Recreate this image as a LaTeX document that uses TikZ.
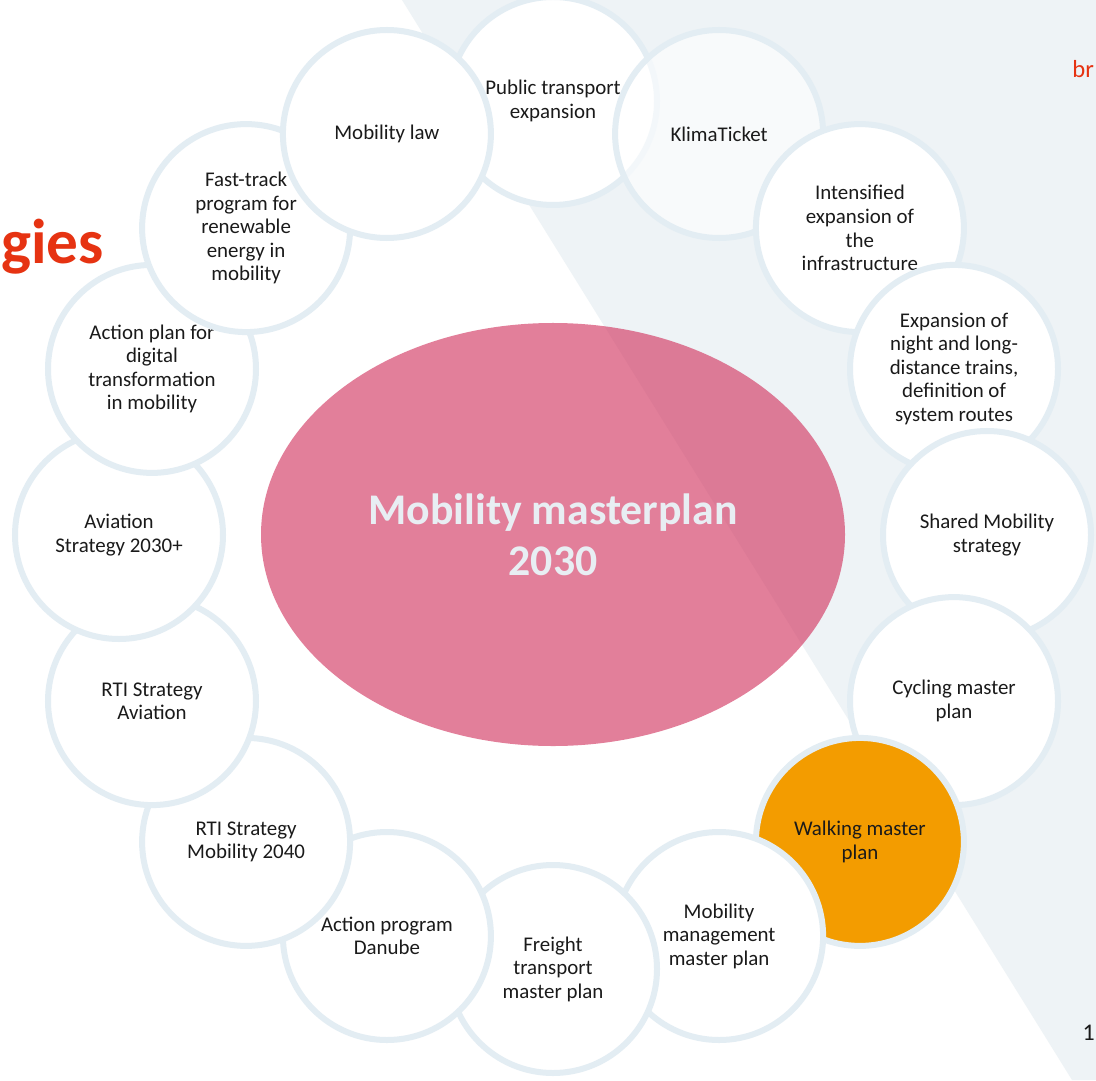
\documentclass[tikz,border=0pt]{standalone}
\usepackage{fontspec}
\setmainfont{Carlito}
\usetikzlibrary{shapes.geometric}
\definecolor{ringline}{HTML}{E3EDF3}
\definecolor{slab}{HTML}{EEF3F6}
\definecolor{plum}{RGB}{208,42,87}
\definecolor{walkorange}{HTML}{F39C00}
\definecolor{headred}{HTML}{E63312}
\definecolor{titlegrey}{HTML}{E8EEF3}
\definecolor{inkgrey}{HTML}{1A1A1A}

\begin{document}
\begin{tikzpicture}[scale=0.2]
\tikzstyle{every node}+=[inner sep=0pt]
\tikzstyle{bubble}=[circle, draw=ringline, line width=0.12cm, fill=white, minimum size=4.16cm, align=center, text=inkgrey, font=\fontsize{11.9pt}{13.4pt}\selectfont]
\tikzstyle{masterplan}=[ellipse, fill=plum, fill opacity=0.6, text opacity=1, minimum width=11.68cm, minimum height=8.46cm, align=center, text=titlegrey, font=\fontsize{24.9pt}{28.9pt}\selectfont\bfseries]
\useasboundingbox (0,0) rectangle (109.6,-108);
\fill [white] (0,0) rectangle (109.6,-108);
\fill [slab] (40.2,0) -- (109.6,0) -- (109.6,-108) -- (107.2,-108) -- cycle;
\node [headred, font=\fontsize{36pt}{40pt}\selectfont\bfseries, anchor=base west] (title) at (0.1,-26.4) {gies};
\node [headred, font=\fontsize{14pt}{16pt}\selectfont, anchor=base west] (subtitle) at (107.2,-7.8) {br};
\node [inkgrey, font=\fontsize{13.6pt}{16pt}\selectfont, anchor=base east] (pageno) at (109.5,-104) {1};
\node [masterplan] (plan) at (55.3,-53.45) {Mobility masterplan\\2030};
\node [bubble] (transit) at (55.3,-10.1) {Public transport\\expansion};
\node [bubble, fill opacity=0.6, text opacity=1] (klima) at (71.91,-13.4) {KlimaTicket};
\node [bubble] (infra) at (85.99,-22.81) {Intensified\\expansion of\\the\\infrastructure};
\node [bubble] (night) at (95.4,-36.89) {Expansion of\\night and long-\\distance trains,\\definition of\\system routes};
\node [bubble] (shared) at (98.7,-53.5) {Shared Mobility\\strategy};
\node [bubble] (cycling) at (95.4,-70.11) {Cycling master\\plan};
\node [bubble, fill=walkorange] (walking) at (85.99,-84.19) {Walking master\\plan};
\node [bubble] (mgmt) at (71.91,-93.6) {Mobility\\management\\master plan};
\node [bubble] (freight) at (55.3,-96.9) {Freight\\transport\\master plan};
\node [bubble] (danube) at (38.69,-93.6) {Action program\\Danube};
\node [bubble] (rtimob) at (24.61,-84.19) {RTI Strategy\\Mobility 2040};
\node [bubble] (rtiair) at (15.2,-70.11) {RTI Strategy\\Aviation};
\node [bubble] (aviation) at (11.9,-53.5) {Aviation\\Strategy 2030+};
\node [bubble] (digital) at (15.2,-36.89) {Action plan for\\digital\\transformation\\in mobility};
\node [bubble] (fasttrack) at (24.61,-22.81) {Fast-track\\program for\\renewable\\energy in\\mobility};
\node [bubble] (law) at (38.69,-13.4) {Mobility law};
\end{tikzpicture}
\end{document}
